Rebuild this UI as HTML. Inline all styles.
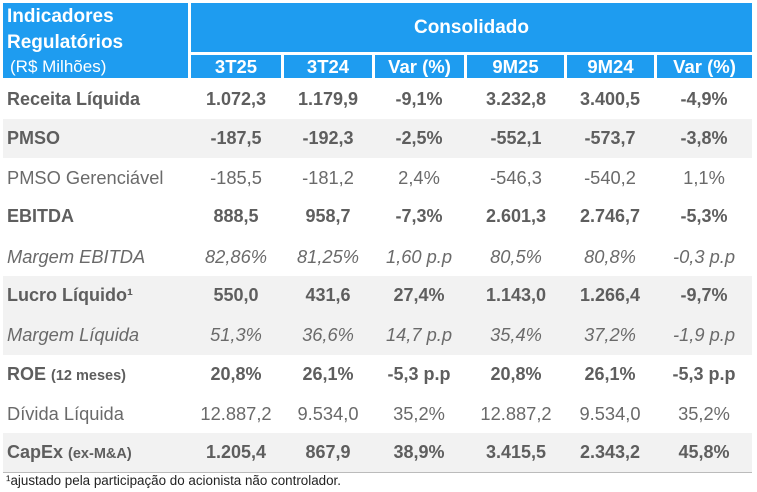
<!DOCTYPE html><html><head><meta charset="utf-8"><style>
body{margin:0;width:757px;height:492px;background:#fff;font-family:"Liberation Sans",sans-serif;position:relative;overflow:hidden}
.b{position:absolute;background:#1e9cf0;color:#fff}
.r{position:absolute;left:3px;width:749px;height:39.3px}
.r.g{background:#f2f2f2}
.c{position:absolute;top:0;height:39px;line-height:39px;font-size:18.3px;color:#6a6a6a;text-align:center;white-space:nowrap}
.l{left:4px;text-align:left}
.bo .c{font-weight:bold;color:#5e5e5e;font-size:18px}
.it .c{font-style:italic}
.h{top:55px;height:23px;line-height:23px;text-align:center;font-weight:bold;font-size:18.5px}
</style></head><body>
<div class="b" style="left:3px;top:3px;width:185px;height:75px"></div>
<div style="position:absolute;left:7px;top:4px;color:#fff;font-weight:bold;font-size:19px;line-height:26px">Indicadores<br>Regulatórios</div>
<div style="position:absolute;left:10px;top:56px;color:#fff;font-size:17px;line-height:22px">(R$ Milhões)</div>
<div class="b" style="left:191px;top:3px;width:561px;height:49px;line-height:49px;text-align:center;font-weight:bold;font-size:19px">Consolidado</div>
<div class="b h" style="left:191px;width:90px">3T25</div>
<div class="b h" style="left:284px;width:88px">3T24</div>
<div class="b h" style="left:375px;width:89px">Var (%)</div>
<div class="b h" style="left:467px;width:97px">9M25</div>
<div class="b h" style="left:567px;width:87px">9M24</div>
<div class="b h" style="left:657px;width:95px">Var (%)</div>
<div id="t"></div>
<div style="position:absolute;left:3px;top:472px;width:749px;height:1px;background:#bbb"></div>
<div style="position:absolute;left:6px;top:473px;font-size:13.4px;line-height:16px;color:#222">¹ajustado pela participação do acionista não controlador.</div>
<script>
var rows=[
["bo","","Receita Líquida","1.072,3","1.179,9","-9,1%","3.232,8","3.400,5","-4,9%"],
["bo","g","PMSO","-187,5","-192,3","-2,5%","-552,1","-573,7","-3,8%"],
["","","PMSO Gerenciável","-185,5","-181,2","2,4%","-546,3","-540,2","1,1%"],
["bo","","EBITDA","888,5","958,7","-7,3%","2.601,3","2.746,7","-5,3%"],
["it","","Margem EBITDA","82,86%","81,25%","1,60 p.p","80,5%","80,8%","-0,3 p.p"],
["bo","g","Lucro Líquido¹","550,0","431,6","27,4%","1.143,0","1.266,4","-9,7%"],
["it","g","Margem Líquida","51,3%","36,6%","14,7 p.p","35,4%","37,2%","-1,9 p.p"],
["bo","","ROE <span style='font-size:14.5px'>(12 meses)</span>","20,8%","26,1%","-5,3 p.p","20,8%","26,1%","-5,3 p.p"],
["","","Dívida Líquida","12.887,2","9.534,0","35,2%","12.887,2","9.534,0","35,2%"],
["bo","g","CapEx <span style='font-size:14.5px'>(ex-M&amp;A)</span>","1.205,4","867,9","38,9%","3.415,5","2.343,2","45,8%"]];
var cx=[236,328,419,516,610,704],h="";
rows.forEach(function(r,i){h+='<div class="r '+r[0]+' '+r[1]+'" style="top:'+(79.5+i*39.3)+'px"><div class="c l">'+r[2]+'</div>';
for(var j=0;j<6;j++)h+='<div class="c" style="left:'+(cx[j]-3-50)+'px;width:100px">'+r[3+j]+'</div>';h+='</div>';});
document.getElementById("t").innerHTML=h;
</script>
</body></html>
